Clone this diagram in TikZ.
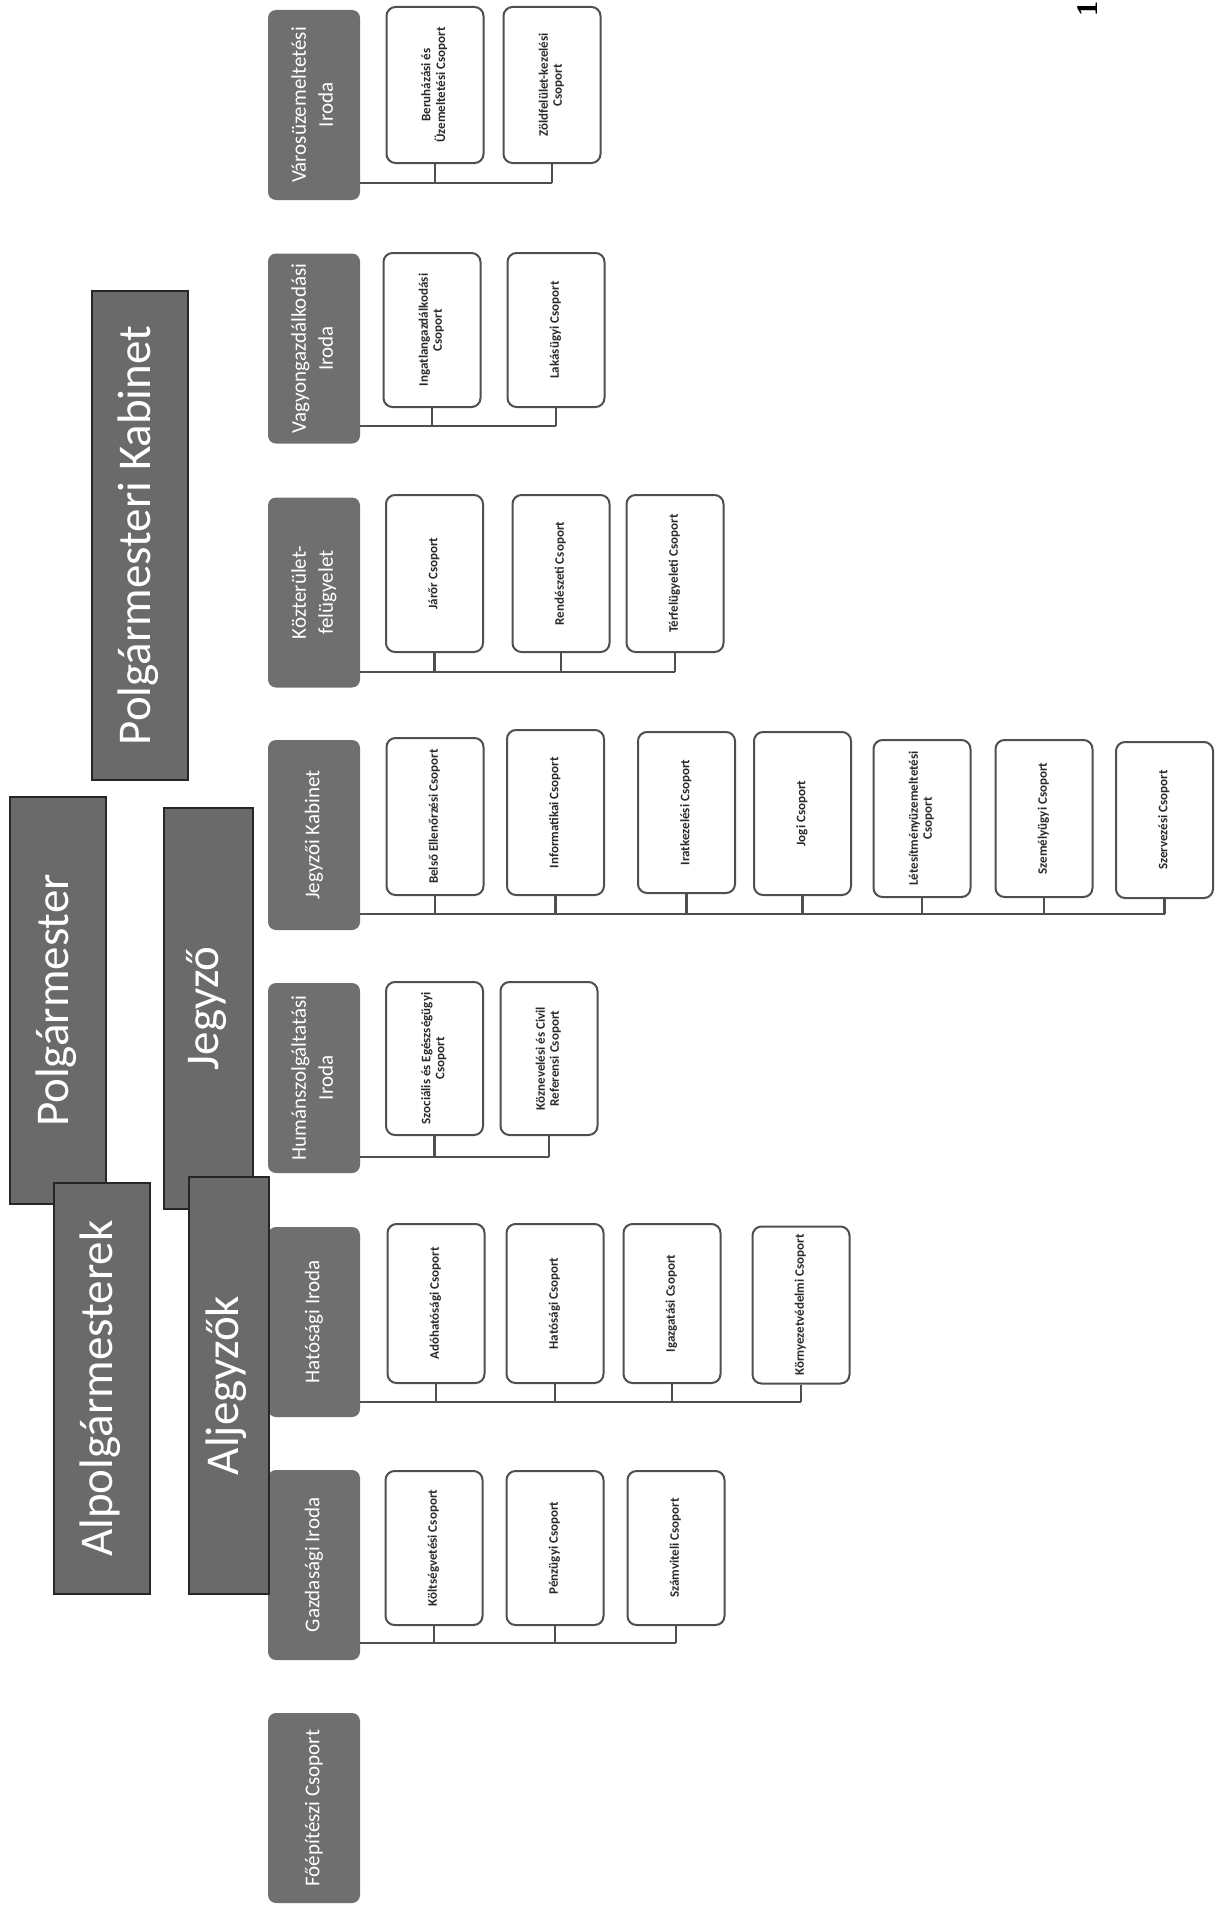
\documentclass[tikz,border=0pt]{standalone}
\usepackage{fontspec}
\setmainfont{Carlito}
\newfontfamily\pagefont{Liberation Serif}
\usetikzlibrary{calc}
\definecolor{officegrey}{HTML}{6F6F6F}
\definecolor{headgrey}{HTML}{6A6A6A}
\definecolor{edgegrey}{HTML}{4F4F4F}
\definecolor{unittext}{HTML}{2A2A2A}
% upright text turned to read from bottom to top
\newcommand\turned[1]{\rotatebox{90}{\begin{tabular}{@{}c@{}}#1\end{tabular}}}
\tikzset{
  head/.style={draw=black!85, line width=2pt, fill=headgrey, text=white,
    font=\fontsize{47}{50}\selectfont, inner sep=0pt},
  office/.style={fill=officegrey, rounded corners=8pt, text=white,
    font=\fontsize{21}{27}\selectfont, inner sep=0pt,
    minimum width=92pt, minimum height=190pt},
  unit/.style={draw=edgegrey, line width=2pt, fill=white, rounded corners=9pt,
    text=unittext, font=\bfseries\fontsize{13}{14}\selectfont, inner sep=0pt,
    minimum width=97pt},
  link/.style={draw=edgegrey, line width=2.3pt},
}
\begin{document}
\begin{tikzpicture}[x=1pt, y=-1pt]
\useasboundingbox[fill=white] (0,0) rectangle (1226,1908);

% ---- offices (left column) ----
\node[office] (dV)  at (314,105)    {\turned{Városüzemeltetési\\Iroda}};
\node[office] (dVg) at (314,348.5)  {\turned{Vagyongazdálkodási\\Iroda}};
\node[office] (dK)  at (314,592.5)  {\turned{Közterület-\\felügyelet}};
\node[office] (dJ)  at (314,835)    {\turned{Jegyzői Kabinet}};
\node[office] (dH)  at (314,1078)   {\turned{Humánszolgáltatási\\Iroda}};
\node[office] (dHa) at (314,1322)   {\turned{Hatósági Iroda}};
\node[office] (dG)  at (314,1565)   {\turned{Gazdasági Iroda}};
\node[office] (dF)  at (314,1808)   {\turned{Főépítészi Csoport}};

% ---- leadership ----
\node[head, minimum width=96pt, minimum height=489pt] (kab) at (140,535.5) {\turned{Polgármesteri Kabinet}};
\node[head, minimum width=96pt, minimum height=407pt] (polg) at (58,1000.5) {\turned{Polgármester}};
\node[head, minimum width=89pt, minimum height=401pt] (jegy) at (208.5,1008.5) {\turned{Jegyző}};
\node[head, minimum width=96pt, minimum height=411pt] (alpolg) at (102,1388.5) {\turned{Alpolgármesterek}};
\node[head, minimum width=80pt, minimum height=417pt] (aljegy) at (228.5,1385.5) {\turned{Aljegyzők}};

% ---- Városüzemeltetési Iroda ----
\node[unit, minimum height=156pt] (v1) at (435,85) {\turned{Beruházási és\\Üzemeltetési Csoport}};
\node[unit, minimum height=156pt] (v2) at (552,85) {\turned{Zöldfelület-kezelési\\Csoport}};
\coordinate (busV) at (0,183);
\draw[link] (dV.east |- busV) -- (v2.south |- busV);
\foreach \u in {v1,v2} \draw[link] (\u.south) -- (\u.south |- busV);

% ---- Vagyongazdálkodási Iroda ----
\node[unit, minimum height=154pt] (g1) at (432,330) {\turned{Ingatlangazdálkodási\\Csoport}};
\node[unit, minimum height=154pt] (g2) at (556,330) {\turned{Lakásügyi Csoport}};
\coordinate (busVg) at (0,426);
\draw[link] (dVg.east |- busVg) -- (g2.south |- busVg);
\foreach \u in {g1,g2} \draw[link] (\u.south) -- (\u.south |- busVg);

% ---- Közterület-felügyelet ----
\node[unit, minimum height=157pt] (k1) at (434.5,573.5) {\turned{Járőr Csoport}};
\node[unit, minimum height=157pt] (k2) at (561,573.5) {\turned{Rendészeti Csoport}};
\node[unit, minimum height=157pt] (k3) at (675,573.5) {\turned{Térfelügyeleti Csoport}};
\coordinate (busK) at (0,672);
\draw[link] (dK.east |- busK) -- (k3.south |- busK);
\foreach \u in {k1,k2,k3} \draw[link] (\u.south) -- (\u.south |- busK);

% ---- Jegyzői Kabinet ----
\node[unit, minimum height=157pt] (j1) at (435,816.5)   {\turned{Belső Ellenőrzési Csoport}};
\node[unit, minimum height=165pt] (j2) at (555.5,812.5) {\turned{Informatikai Csoport}};
\node[unit, minimum height=161pt] (j3) at (686.5,812.5) {\turned{Iratkezelési Csoport}};
\node[unit, minimum height=163pt] (j4) at (802.5,813.5) {\turned{Jogi Csoport}};
\node[unit, minimum height=157pt] (j5) at (922,818.5)   {\turned{Létesítményüzemeltetési\\Csoport}};
\node[unit, minimum height=157pt] (j6) at (1044,818.5)  {\turned{Személyügyi Csoport}};
\node[unit, minimum height=156pt] (j7) at (1164.5,820)  {\turned{Szervezési Csoport}};
\coordinate (busJ) at (0,914);
\draw[link] (dJ.east |- busJ) -- (j7.south |- busJ);
\foreach \u in {j1,j2,j3,j4,j5,j6,j7} \draw[link] (\u.south) -- (\u.south |- busJ);

% ---- Humánszolgáltatási Iroda ----
\node[unit, minimum height=153pt] (h1) at (434.5,1058.5) {\turned{Szociális és Egészségügyi\\Csoport}};
\node[unit, minimum height=153pt] (h2) at (549,1058.5)   {\turned{Köznevelési és Civil\\Referensi Csoport}};
\coordinate (busH) at (0,1157);
\draw[link] (dH.east |- busH) -- (h2.south |- busH);
\foreach \u in {h1,h2} \draw[link] (\u.south) -- (\u.south |- busH);

% ---- Hatósági Iroda ----
\node[unit, minimum height=159pt] (a1) at (436,1303.5) {\turned{Adóhatósági Csoport}};
\node[unit, minimum height=159pt] (a2) at (555,1303.5) {\turned{Hatósági Csoport}};
\node[unit, minimum height=159pt] (a3) at (672,1303.5) {\turned{Igazgatási Csoport}};
\node[unit, minimum height=157pt] (a4) at (801,1305)   {\turned{Környezetvédelmi Csoport}};
\coordinate (busHa) at (0,1402);
\draw[link] (dHa.east |- busHa) -- (a4.south |- busHa);
\foreach \u in {a1,a2,a3,a4} \draw[link] (\u.south) -- (\u.south |- busHa);

% ---- Gazdasági Iroda ----
\node[unit, minimum height=154pt] (z1) at (434,1548) {\turned{Költségvetési Csoport}};
\node[unit, minimum height=154pt] (z2) at (555,1548) {\turned{Pénzügyi Csoport}};
\node[unit, minimum height=154pt] (z3) at (676,1548) {\turned{Számviteli Csoport}};
\coordinate (busG) at (0,1643);
\draw[link] (dG.east |- busG) -- (z3.south |- busG);
\foreach \u in {z1,z2,z3} \draw[link] (\u.south) -- (\u.south |- busG);

% ---- page number ----
\node[inner sep=0pt, font=\pagefont\bfseries\fontsize{30}{30}\selectfont] (pagenum) at (1088,9) {\rotatebox{90}{1}};
\end{tikzpicture}
\end{document}
